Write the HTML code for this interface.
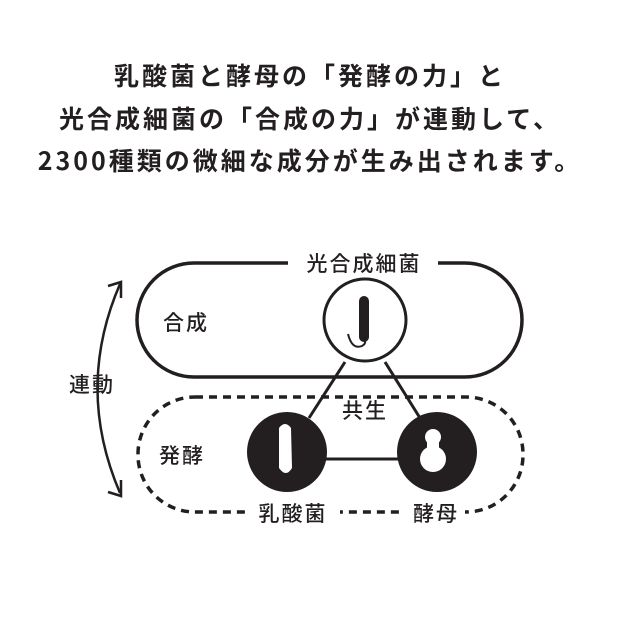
<!DOCTYPE html>
<html><head><meta charset="utf-8"><style>
html,body{margin:0;padding:0;background:#fff;}
body{width:620px;height:620px;position:relative;overflow:hidden;}
.t{position:absolute;left:0;width:620px;text-align:center;font-family:"Noto Sans CJK JP",sans-serif;font-size:25px;font-weight:700;letter-spacing:3px;color:#231f20;line-height:30px;}
</style></head><body>
<div class="t" style="top:60px">乳酸菌と酵母の「発酵の力」と</div>
<div class="t" style="top:103px">光合成細菌の「合成の力」が連動して、</div>
<div class="t" style="top:145px">2300種類の微細な成分が生み出されます。</div>
<svg width="620" height="620" style="position:absolute;left:0;top:0" font-family="Noto Sans CJK JP, sans-serif" fill="#231f20">
<g stroke="#231f20" fill="none">
<path d="M288 263 H194 A57 57 0 0 0 194 377 H465 A57 57 0 0 0 465 263 H438" stroke-width="3.5"/>
<rect x="138" y="397" width="385" height="115" rx="57" stroke-width="3.5" stroke-dasharray="8,6"/>
<line x1="345" y1="362" x2="309" y2="418" stroke-width="3"/>
<line x1="385" y1="362" x2="420" y2="418" stroke-width="3"/>
<line x1="320" y1="459" x2="400" y2="459" stroke-width="3"/>
<path d="M120 284 Q75 388 120 493" stroke-width="2.5"/>
<path d="M108 286 L121 282 L121 298" stroke-width="2.5"/>
<path d="M108 492 L121 496 L121 480" stroke-width="2.5"/>
</g>
<rect x="250" y="502" width="90" height="22" fill="#fff"/>
<rect x="403" y="502" width="62" height="22" fill="#fff"/>
<circle cx="365" cy="320" r="41" fill="#fff" stroke="#231f20" stroke-width="3"/>
<rect x="359" y="296" width="10" height="46" rx="5"/>
<path d="M348 334 Q352 350 362 346 Q366 344 365 340" fill="none" stroke="#231f20" stroke-width="2"/>
<circle cx="287" cy="452" r="40"/>
<circle cx="437" cy="452" r="40"/>
<path d="M279 428 Q285 420 291 428 L292 468 Q286 478 279 468 Z" fill="#fff"/>
<circle cx="433" cy="437" r="8" fill="#fff"/>
<circle cx="433" cy="459" r="13" fill="#fff"/>
<rect x="427" y="440" width="12" height="10" fill="#fff"/>
<g font-size="21" font-weight="500" letter-spacing="2" text-anchor="middle">
<text x="364" y="271">光合成細菌</text>
<text x="186" y="330">合成</text>
<text x="182" y="463">発酵</text>
<text x="92" y="392">連動</text>
<text x="365" y="418">共生</text>
<text x="293" y="521">乳酸菌</text>
<text x="436" y="521">酵母</text>
</g>
</svg>
</body></html>
